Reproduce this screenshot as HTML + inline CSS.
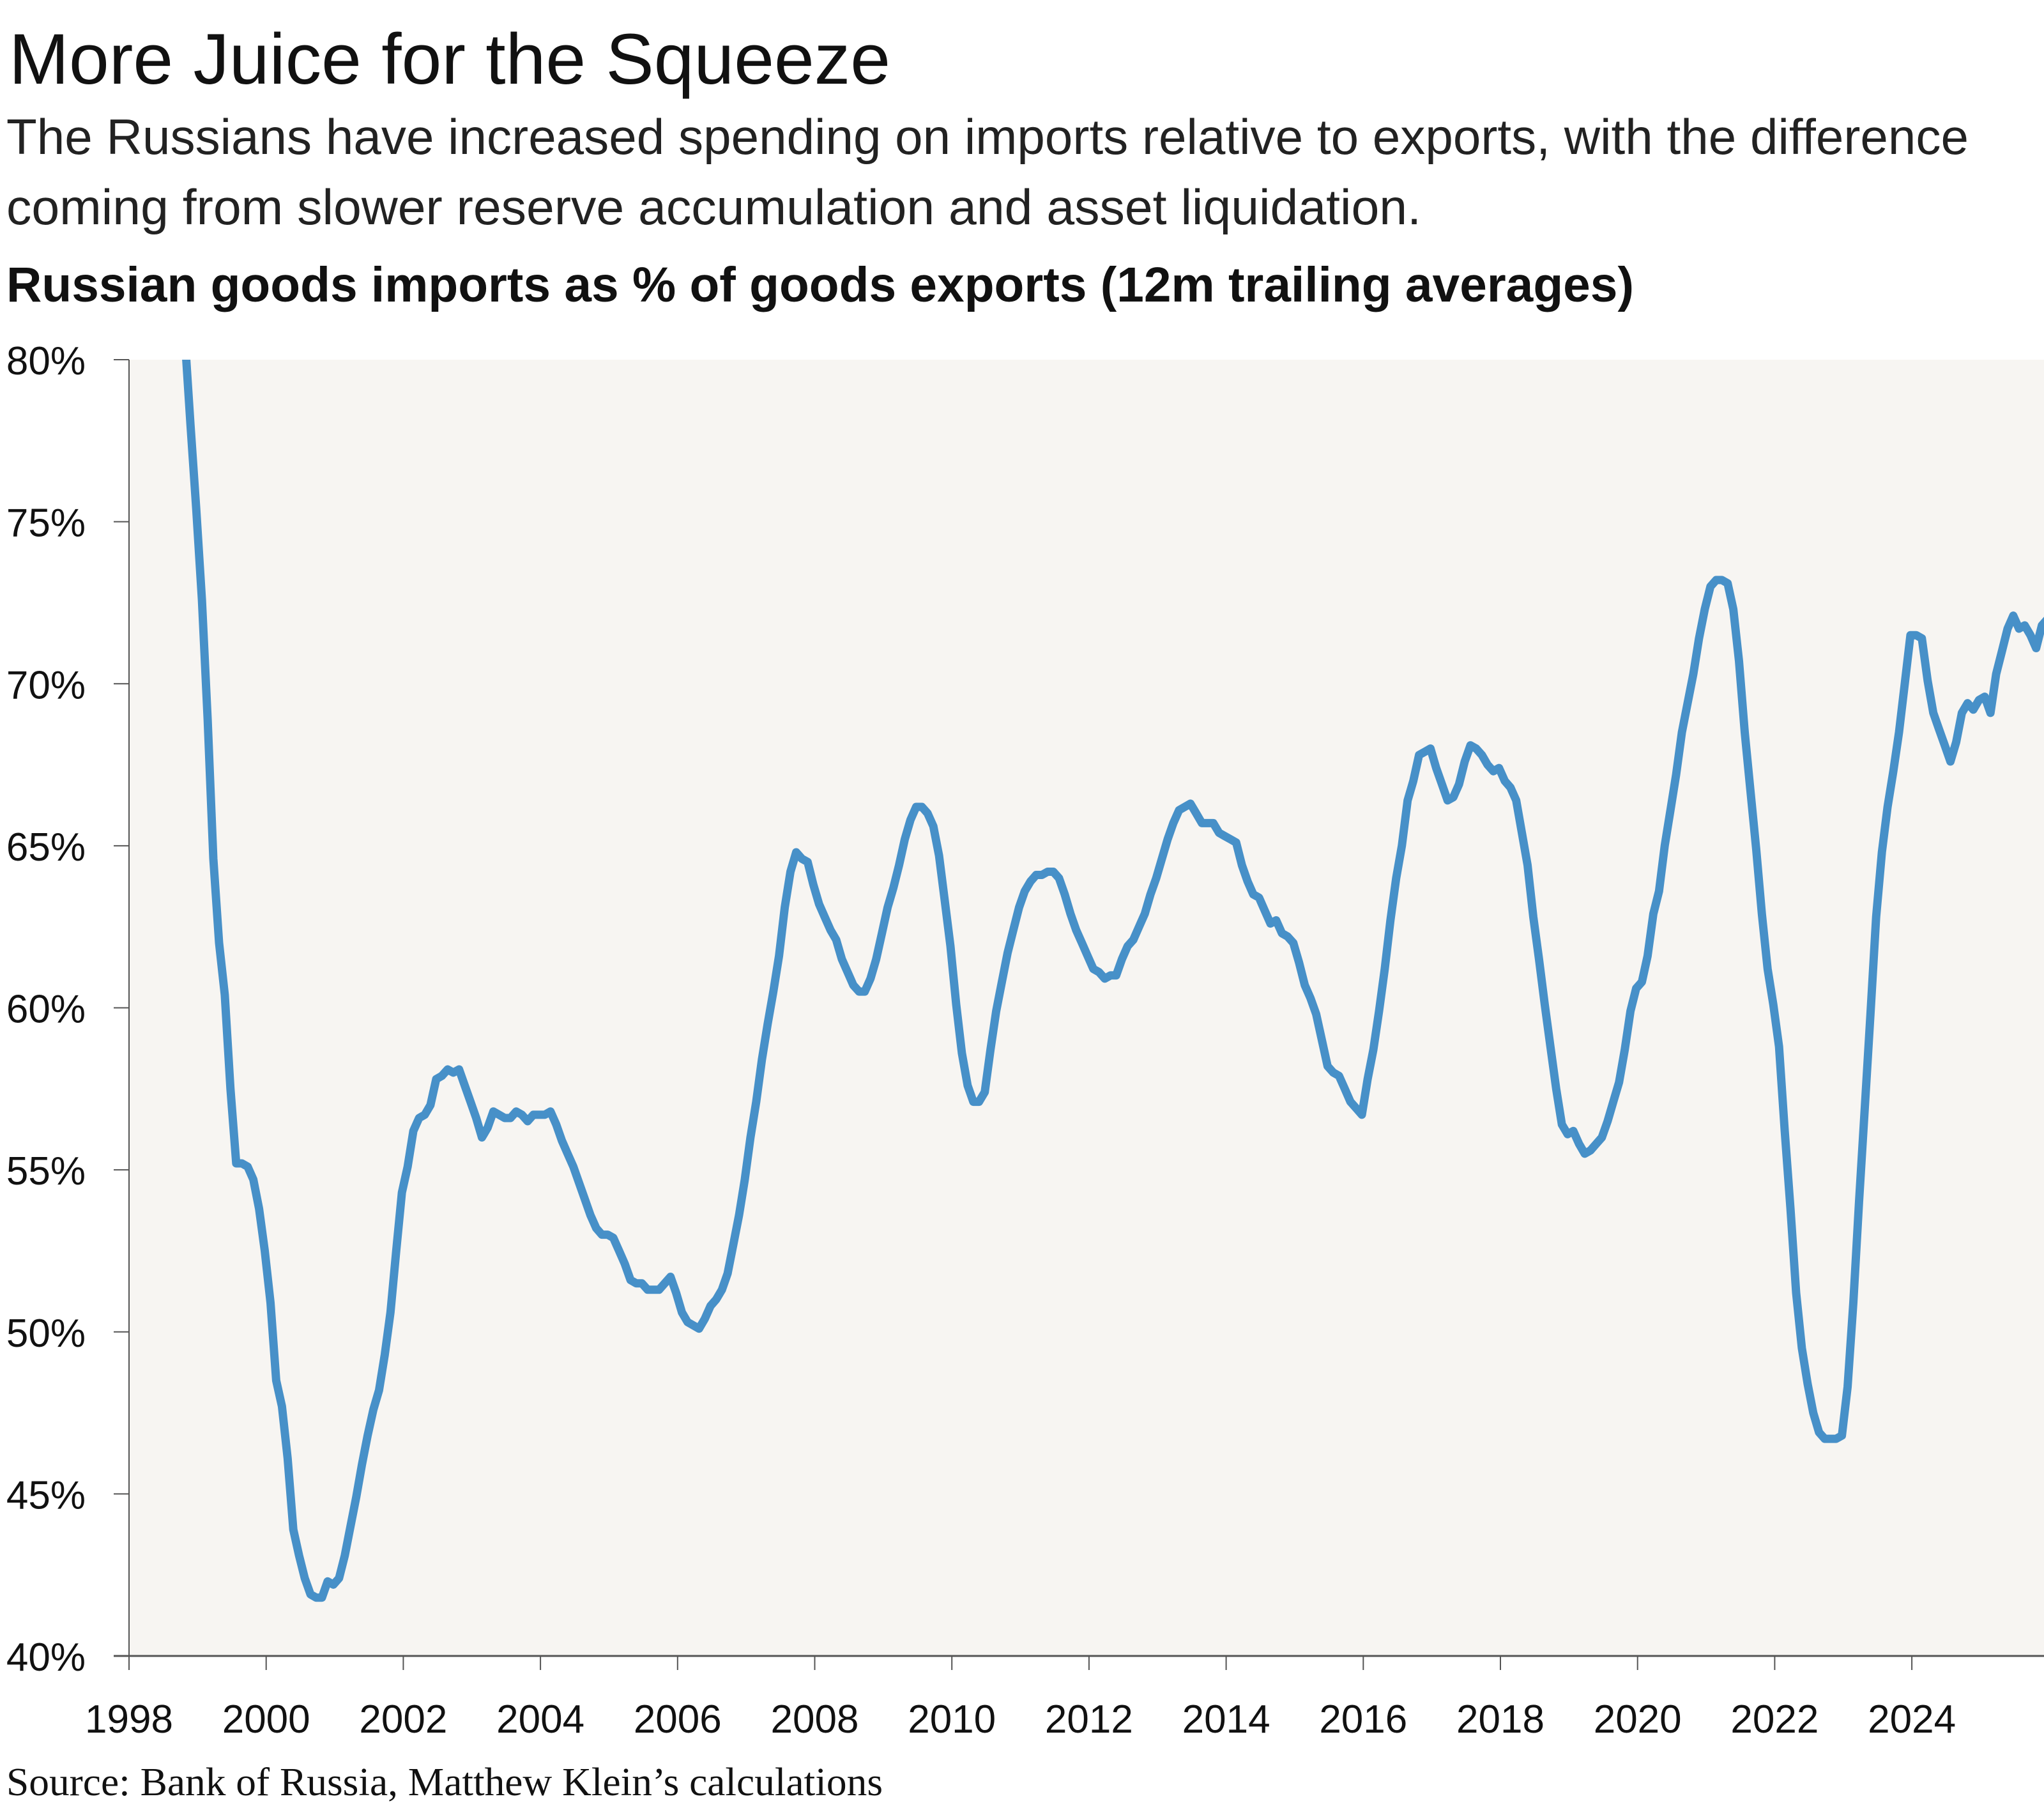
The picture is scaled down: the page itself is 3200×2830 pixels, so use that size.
<!DOCTYPE html>
<html><head><meta charset="utf-8"><style>
html,body{margin:0;padding:0;background:#fff;}
svg{display:block;}
</style></head><body>
<svg id="chart" width="3200" height="2830" viewBox="0 0 3200 2830" xmlns="http://www.w3.org/2000/svg">
<text x="14" y="131" font-family="Liberation Sans, sans-serif" font-size="112" font-weight="300" fill="#111" textLength="1380" lengthAdjust="spacingAndGlyphs">More Juice for the Squeeze</text>
<text x="10" y="241" font-family="Liberation Sans, sans-serif" font-size="78" fill="#222" textLength="3072" lengthAdjust="spacingAndGlyphs">The Russians have increased spending on imports relative to exports, with the difference</text>
<text x="10" y="351" font-family="Liberation Sans, sans-serif" font-size="78" fill="#222" textLength="2215" lengthAdjust="spacingAndGlyphs">coming from slower reserve accumulation and asset liquidation.</text>
<text x="10" y="472" font-family="Liberation Sans, sans-serif" font-size="77" font-weight="bold" fill="#111" textLength="2548" lengthAdjust="spacingAndGlyphs">Russian goods imports as % of goods exports (12m trailing averages)</text>
<rect x="202" y="563" width="2998" height="2029" fill="#f7f5f2"/>
<g id="yaxis"></g>
<g id="xaxis"></g>
<g id="series"></g>
<text x="10" y="2810" font-family="Liberation Serif, serif" font-size="62" fill="#111" textLength="1372" lengthAdjust="spacingAndGlyphs">Source: Bank of Russia, Matthew Klein’s calculations</text>
</svg>
<script>
const yTicks = [40,45,50,55,60,65,70,75,80];
const yTickLabels = ["40%","45%","50%","55%","60%","65%","70%","75%","80%"];
const xTicks = [1998,2000,2002,2004,2006,2008,2010,2012,2014,2016,2018,2020,2022,2024];
const xTickLabels = ["1998","2000","2002","2004","2006","2008","2010","2012","2014","2016","2018","2020","2022","2024"];
const seriesStart = 1998.813;
const ratioValues = [
80.7,78.0,75.4,72.6,68.9,64.6,62.0,60.4,57.5,55.2,55.2,55.1,54.7,53.8,52.5,50.9,48.5,47.7,46.1,43.9,43.1,42.4,41.9,41.8,41.8,42.3,42.2,42.4,43.1,44.0,44.9,45.9,46.8,47.6,48.2,49.3,50.6,52.5,54.3,
55.1,56.2,56.6,56.7,57.0,57.8,57.9,58.1,58.0,58.1,57.6,57.1,56.6,56.0,56.3,56.8,56.7,56.6,56.6,56.8,56.7,56.5,56.7,56.7,56.7,56.8,56.4,55.9,55.5,55.1,54.6,54.1,53.6,53.2,53.0,53.0,52.9,52.5,52.1,51.6,51.5,
51.5,51.3,51.3,51.3,51.5,51.7,51.2,50.6,50.3,50.2,50.1,50.4,50.8,51.0,51.3,51.8,52.7,53.6,54.7,56.0,57.1,58.4,59.5,60.5,61.6,63.1,64.2,64.8,64.6,64.5,63.8,63.2,62.8,62.4,62.1,61.5,61.1,60.7,60.5,60.5,60.9,61.5,
62.3,63.1,63.7,64.4,65.2,65.8,66.2,66.2,66.0,65.6,64.7,63.3,61.9,60.1,58.6,57.6,57.1,57.1,57.4,58.7,59.9,60.8,61.7,62.4,63.1,63.6,63.9,64.1,64.1,64.2,64.2,64.0,63.5,62.9,62.4,62.0,61.6,61.2,61.1,60.9,61.0,
61.0,61.5,61.9,62.1,62.5,62.9,63.5,64.0,64.6,65.2,65.7,66.1,66.2,66.3,66.0,65.7,65.7,65.7,65.4,65.3,65.2,65.1,64.4,63.9,63.5,63.4,63.0,62.6,62.7,62.3,62.2,62.0,61.4,60.7,60.3,59.8,59.0,58.2,58.0,57.9,57.5,57.1,
56.9,56.7,57.8,58.7,59.9,61.2,62.7,64.0,65.0,66.4,67.0,67.8,67.9,68.0,67.4,66.9,66.4,66.5,66.9,67.6,68.1,68.0,67.8,67.5,67.3,67.4,67.0,66.8,66.4,65.4,64.4,62.8,61.5,60.1,58.8,57.5,56.4,56.1,56.2,55.8,55.5,55.6,55.8,56.0,56.5,57.1,
57.7,58.7,59.9,60.6,60.8,61.6,62.9,63.6,65.0,66.1,67.2,68.5,69.4,70.3,71.4,72.3,73.0,73.2,73.2,73.1,72.3,70.7,68.5,66.7,64.9,62.9,
61.2,60.1,58.8,56.2,53.8,51.2,49.5,48.4,47.5,46.9,46.7,46.7,46.7,46.8,48.3,50.9,54.0,56.9,59.8,62.8,64.8,66.2,67.3,68.5,70.0,71.5,71.5,71.4,70.1,69.1,68.6,68.1,67.6,68.2,69.1,69.4,69.2,69.5,69.6,69.1,70.3,71.0,71.7,72.1,71.7,71.8,71.5,71.1,71.8,72.0
];

const NS = "http://www.w3.org/2000/svg";
const X0 = 202, X1 = 3200, Y0 = 2592, Y1 = 563;
const pxPerYear = 107.35;
const xScale = yr => X0 + (yr - 1998) * pxPerYear;
const yScale = v => Y0 - (v - 40) / 40 * (Y0 - Y1);

const yaxis = document.getElementById('yaxis');
const xaxis = document.getElementById('xaxis');
const series = document.getElementById('series');

function mk(tag, attrs, parent) {
  const el = document.createElementNS(NS, tag);
  for (const k in attrs) el.setAttribute(k, attrs[k]);
  parent.appendChild(el);
  return el;
}

const yLine = mk('line', {x1: X0, x2: X0, y1: Y1, y2: Y0, stroke: '#555', 'stroke-width': 2}, yaxis);


yTicks.forEach((v, i) => {
  const y = yScale(v);
  const t = mk('line', {x1: 178, x2: X0, y1: y, y2: y, stroke: '#555', 'stroke-width': 2}, yaxis);
  
  
  const lb = mk('text', {x: 134, y: y + 23, 'text-anchor': 'end', 'font-family': 'Liberation Sans, sans-serif', 'font-size': 62, 'font-weight': 300, fill: '#111'}, yaxis);
  lb.textContent = yTickLabels[i];
  
  
});

const xLine = mk('line', {x1: 178, x2: X1, y1: Y0, y2: Y0, stroke: '#555', 'stroke-width': 3}, xaxis);


xTicks.forEach((yr, i) => {
  const x = xScale(yr);
  const t = mk('line', {x1: x, x2: x, y1: Y0, y2: 2614, stroke: '#555', 'stroke-width': 2}, xaxis);
  
  
  const lb = mk('text', {x: x, y: 2712, 'text-anchor': 'middle', 'font-family': 'Liberation Sans, sans-serif', 'font-size': 62, 'font-weight': 300, fill: '#111'}, xaxis);
  lb.textContent = xTickLabels[i];
  
  
});

const cp = mk('clipPath', {id: 'plotclip'}, document.getElementById('chart'));
mk('rect', {x: X0, y: Y1, width: X1 - X0, height: Y0 - Y1}, cp);
const pts = ratioValues.map((v, i) => {
  const yr = seriesStart + i / 12;
  return xScale(yr).toFixed(1) + ',' + yScale(v).toFixed(1);
});
const path = mk('polyline', {points: pts.join(' '), fill: 'none', stroke: '#4790c8', 'stroke-width': 13, 'stroke-linejoin': 'round', 'stroke-linecap': 'round', 'clip-path': 'url(#plotclip)'}, series);


</script>
</body></html>
